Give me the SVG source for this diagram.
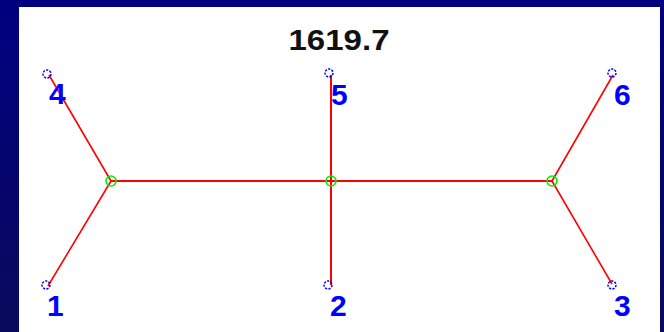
<svg xmlns="http://www.w3.org/2000/svg" width="664" height="332" viewBox="0 0 664 332">
  <defs>
    <linearGradient id="bg" x1="0" y1="0" x2="0" y2="1">
      <stop offset="0" stop-color="#000080"/>
      <stop offset="1" stop-color="#0a0a5c"/>
    </linearGradient>
  </defs>
  <style>
    .edge { stroke: #ff0000; stroke-width: 1.6; fill: none; }
    .edge2 { stroke: #ff0000; stroke-width: 2; fill: none; }
    .inner { fill: none; stroke: #00ee00; stroke-width: 1.6; }
    .leaf { fill: none; stroke: #0000ff; stroke-width: 1.5; stroke-dasharray: 2.2 1.3; }
    .lbl { font-family: "Liberation Sans", Arial, sans-serif; font-weight: bold; font-size: 30px; fill: #0000ff; }
    .title { font-family: "Liberation Sans", Arial, sans-serif; font-weight: bold; font-size: 30px; fill: #111111; }
  </style>
  <rect x="0" y="0" width="664" height="332" fill="url(#bg)"/>
  <rect x="19" y="7" width="641" height="325" fill="#ffffff"/>
  <text class="title" x="339" y="50" text-anchor="middle" textLength="101" lengthAdjust="spacingAndGlyphs">1619.7</text>
  <g id="connectors">
    <line class="edge" x1="111" y1="181" x2="49" y2="75"/>
    <line class="edge" x1="111" y1="181" x2="48" y2="286"/>
    <line class="edge2" x1="111" y1="181" x2="552" y2="181"/>
    <line class="edge2" x1="331" y1="75" x2="331" y2="285"/>
    <line class="edge" x1="552" y1="181" x2="613" y2="75"/>
    <line class="edge" x1="552" y1="181" x2="612" y2="284"/>
  </g>
  <g id="n7"><circle class="inner" cx="111" cy="181" r="5"/></g>
  <g id="n8"><circle class="inner" cx="331" cy="181" r="5"/></g>
  <g id="n9"><circle class="inner" cx="552" cy="181" r="5"/></g>
  <g id="n4"><circle class="leaf" cx="47" cy="74" r="4"/><text class="lbl" x="49" y="104">4</text></g>
  <g id="n5"><circle class="leaf" cx="329" cy="73" r="4"/><text class="lbl" x="331" y="105">5</text></g>
  <g id="n6"><circle class="leaf" cx="612" cy="73" r="4"/><text class="lbl" x="614" y="105">6</text></g>
  <g id="n1"><circle class="leaf" cx="46" cy="285" r="4"/><text class="lbl" x="47" y="316">1</text></g>
  <g id="n2"><circle class="leaf" cx="328" cy="285" r="4"/><text class="lbl" x="330" y="316">2</text></g>
  <g id="n3"><circle class="leaf" cx="612" cy="285" r="4"/><text class="lbl" x="614" y="316">3</text></g>
</svg>
